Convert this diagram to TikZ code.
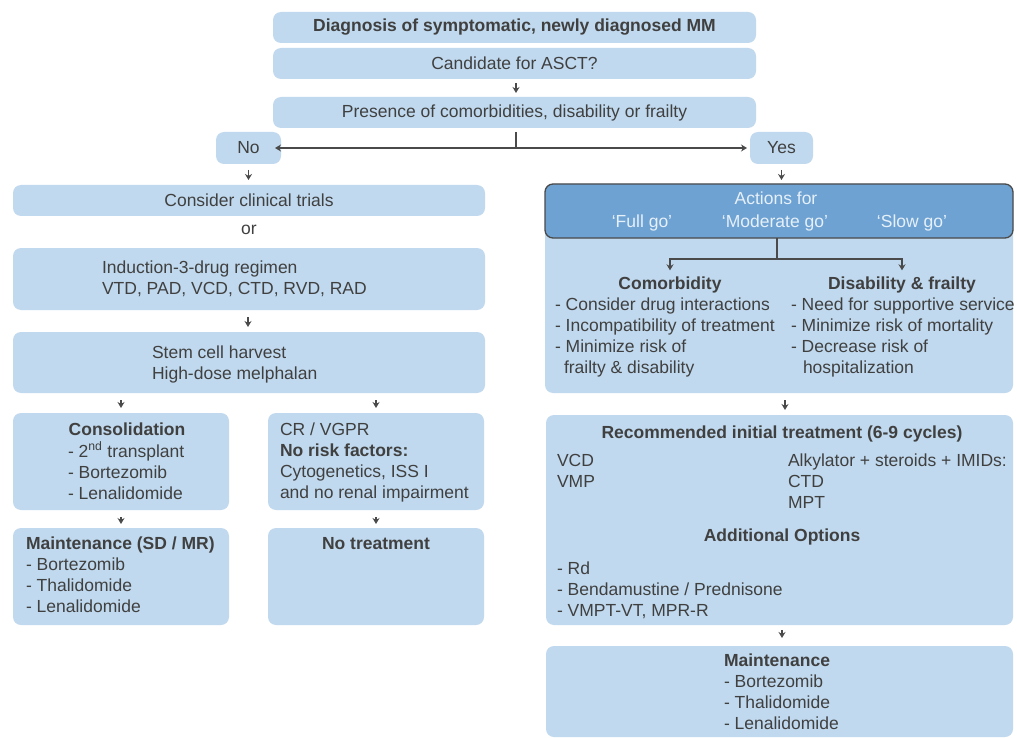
\documentclass[tikz,border=0pt]{standalone}
\usepackage{fontspec}
\setmainfont{Liberation Sans}
\usetikzlibrary{arrows.meta}
\definecolor{boxblue}{HTML}{C0D9EE}
\definecolor{darkblue}{HTML}{6EA2D2}
\definecolor{txt}{HTML}{404040}
\definecolor{lncol}{HTML}{4A4A4A}
\definecolor{lighttxt}{HTML}{E6F0F9}
\newcommand{\fsz}{\fontsize{17.5}{21}\selectfont}
\begin{document}
\begin{tikzpicture}[x=1pt,y=-1pt,
  every node/.style={font=\fsz, text=txt, inner sep=0pt, outer sep=0pt},
  box/.style={fill=boxblue, rounded corners=8pt, draw=none},
  lt/.style={anchor=base west, align=left},
  ct/.style={anchor=base, align=center},
  conn/.style={draw=lncol, line width=1.2pt},
  arr/.style={conn, -{Stealth[length=6pt,width=7pt]}},
  down/.style={arr, shorten <=#1, shorten >=#1},
  down/.default=5pt]
\useasboundingbox (0,0) rectangle (1017,738);

% ---------- top ----------
\node[box, minimum width=483pt, minimum height=31pt] (diag) at (514.5,27.5) {\textbf{Diagnosis of symptomatic, newly diagnosed MM}};
\node[box, minimum width=483pt, minimum height=31pt] (cand) at (514.5,63.5) {Candidate for ASCT?};
\node[box, minimum width=483pt, minimum height=31pt] (pres) at (514.5,112.5) {Presence of comorbidities, disability or frailty};
\node[box, minimum width=65pt, minimum height=32pt] (no) at (248.5,148) {No};
\node[box, minimum width=63pt, minimum height=32pt] (yes) at (781.5,148) {Yes};
\coordinate (split) at (516,148);

\draw[down=4pt] ([xshift=1.5pt]cand.south) -- ([xshift=1.5pt]pres.north);
\draw[conn] ([xshift=1.5pt,yshift=-4pt]pres.south) -- (split);
\draw[arr] (split) -- ([xshift=-6pt]no.east);
\draw[arr] (split) -- ([xshift=-3pt]yes.west);

% ---------- left column ----------
\node[box, minimum width=472pt, minimum height=31pt] (clin) at (249,200.5) {Consider clinical trials};
\node (or) at (249,230) {or};
\node[box, minimum width=472pt, minimum height=62pt] (ind) at (249,279) {};
\node[lt] (indt) at (102,294) {Induction-3-drug regimen\\VTD, PAD, VCD, CTD, RVD, RAD};
\node[box, minimum width=472pt, minimum height=61pt] (stem) at (249,362.5) {};
\node[lt] (stemt) at (152,379) {Stem cell harvest\\High-dose melphalan};

\node[box, minimum width=216pt, minimum height=97pt] (cons) at (121,461.5) {};
\node[ct] (const) at (127,435) {\textbf{Consolidation}};
\node[lt] (consl) at (68,499) {- 2\textsuperscript{nd} transplant\\- Bortezomib\\- Lenalidomide};
\node[box, minimum width=216pt, minimum height=97pt] (cr) at (376,461.5) {};
\node[lt] (crt) at (280,498) {CR / VGPR\\\textbf{No risk factors:}\\Cytogenetics, ISS I\\and no renal impairment};

\node[box, minimum width=216pt, minimum height=97pt] (maint) at (121,576.5) {};
\node[lt] (maintt) at (26,612) {\textbf{Maintenance (SD / MR)}\\- Bortezomib\\- Thalidomide\\- Lenalidomide};
\node[box, minimum width=216pt, minimum height=97pt] (notr) at (376,576.5) {};
\node[ct] (notrt) at (376,549) {\textbf{No treatment}};

\draw[arr, shorten <=6pt, shorten >=5pt] (no.south) -- (no.south |- clin.north);
\draw[arr, shorten <=7pt, shorten >=5pt] ([xshift=-1pt]ind.south) -- ([xshift=-1pt]stem.north);
\draw[arr, shorten <=7pt, shorten >=5pt] (cons.north |- stem.south) -- (cons.north);
\draw[arr, shorten <=7pt, shorten >=5pt] (cr.north |- stem.south) -- (cr.north);
\draw[arr, shorten <=7pt, shorten >=4pt] (cons.south) -- (maint.north);
\draw[arr, shorten <=7pt, shorten >=4pt] (cr.south) -- (notr.north);

% ---------- right column ----------
\node[box, minimum width=468pt, minimum height=209pt] (panel) at (779,288.5) {};
\node[fill=darkblue, draw=lncol, line width=1.3pt, rounded corners=8pt,
      minimum width=468pt, minimum height=54pt] (act) at (779,211) {};
\node[ct, text=lighttxt] (actt) at (776,205) {Actions for};
\node[ct, text=lighttxt] (full) at (642,228) {‘Full go’};
\node[ct, text=lighttxt] (mod) at (775,228) {‘Moderate go’};
\node[ct, text=lighttxt] (slow) at (912,228) {‘Slow go’};

\draw[arr, shorten <=6pt, shorten >=4pt] (yes.south) -- (yes.south |- act.north);

\node[ct] (comor) at (670,289) {\textbf{Comorbidity}};
\node[ct] (disab) at (902,289) {\textbf{Disability \& frailty}};
\coordinate (j) at (777,259);
\draw[conn] (j |- act.south) -- (j);
\draw[arr] (j) -| ([yshift=6pt]comor.north);
\draw[arr] (j) -| ([yshift=6pt]disab.north);

\node[lt] (coml) at (555,373) {- Consider drug interactions\\- Incompatibility of treatment\\- Minimize risk of\\\hspace*{9pt}frailty \& disability};
\node[lt] (disl) at (791,373) {- Need for supportive service\\- Minimize risk of mortality\\- Decrease risk of\\\hspace*{12pt}hospitalization};

\node[box, minimum width=467pt, minimum height=210pt] (rec) at (779.5,520) {};
\node[ct] (rect) at (782,438) {\textbf{Recommended initial treatment (6-9 cycles)}};
\node[lt] (recl) at (557,487) {VCD\\VMP};
\node[lt] (recr) at (788,508) {Alkylator + steroids + IMIDs:\\CTD\\MPT};
\node[ct] (addt) at (782,541) {\textbf{Additional Options}};
\node[lt] (addl) at (557,616) {- Rd\\- Bendamustine / Prednisone\\- VMPT-VT, MPR-R};

\node[box, minimum width=467pt, minimum height=91pt] (maint2) at (779.5,691.5) {};
\node[lt] (maint2t) at (724,729) {\textbf{Maintenance}\\- Bortezomib\\- Thalidomide\\- Lenalidomide};

\draw[arr, shorten <=7pt, shorten >=5pt] ([xshift=6pt]panel.south) -- ([xshift=5.5pt]rec.north);
\draw[arr, shorten <=5pt, shorten >=8pt] ([xshift=2.5pt]rec.south) -- ([xshift=2.5pt]maint2.north);
\end{tikzpicture}
\end{document}
